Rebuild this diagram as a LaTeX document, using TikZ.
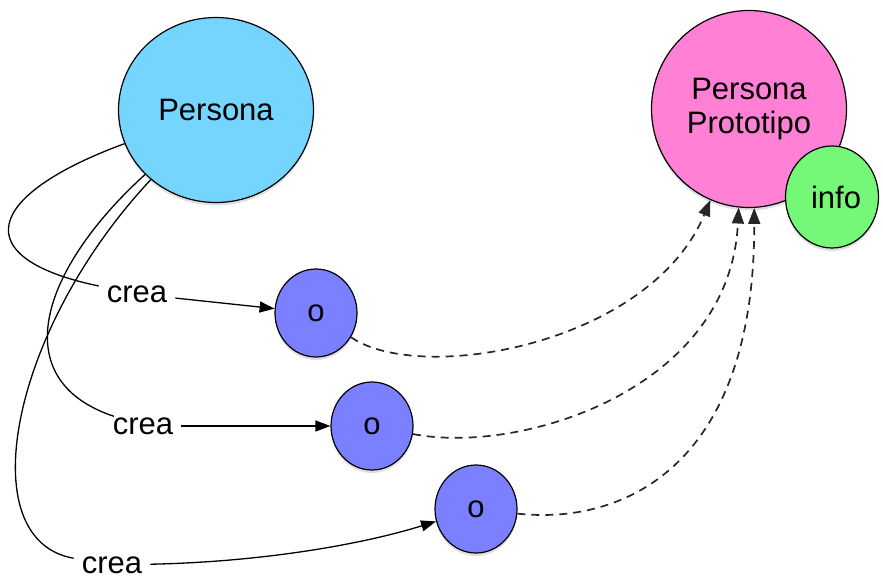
\documentclass[tikz,border=0pt]{standalone}
\usepackage{fontspec}
\setmainfont{Liberation Sans}
\usetikzlibrary{arrows.meta,shapes.geometric,shadows}
\definecolor{pblue}{HTML}{75D5FF}
\definecolor{ppink}{HTML}{FF80D5}
\definecolor{pgreen}{HTML}{75F877}
\definecolor{pviolet}{HTML}{7A80FF}
\begin{document}
\begin{tikzpicture}[x=1pt,y=-1pt,
  circ/.style={ellipse, draw=black, line width=1.2pt, inner sep=0pt,
    drop shadow={shadow xshift=0pt, shadow yshift=-3pt, opacity=0.25},
    font=\fontsize{31}{34}\selectfont, align=center},
  lab/.style={fill=white, inner xsep=8pt, inner ysep=1pt, font=\fontsize{31}{34}\selectfont},
  solidcon/.style={line width=1.3pt, draw=black},
  solidarr/.style={solidcon, -{Triangle[length=15pt,width=11pt]}},
  dashcon/.style={line width=1.7pt, draw=black!85, dash pattern=on 8pt off 6pt,
    -{Triangle[length=16pt,width=12pt]}}
]
\useasboundingbox (0,0) rectangle (883,578);
% main circles
\node[circ, fill=pblue, minimum width=195pt, minimum height=185pt] (P) at (216,110) {Persona};
\node[circ, fill=ppink, minimum width=195pt, minimum height=197pt] (PP) at (749,109) {Persona\\Prototipo};
\node[circ, fill=pgreen, minimum width=93pt, minimum height=102pt] (I) at (832,197) {\hspace*{8pt}info};
% object circles
\node[circ, fill=pviolet, minimum width=82pt, minimum height=88pt] (o1) at (316,313) {o};
\node[circ, fill=pviolet, minimum width=82pt, minimum height=88pt] (o2) at (372,426) {o};
\node[circ, fill=pviolet, minimum width=82pt, minimum height=88pt] (o3) at (476,509) {o};
% labels
\node[lab] (c1) at (137,294) {crea};
\node[lab] (c2) at (143,426) {crea};
\node[lab] (c3) at (112,565) {crea};
% creation connectors
\draw[solidcon] (P) .. controls (-15,195) and (-35,258) .. (c1);
\draw[solidarr] (c1) -- (o1);
\draw[solidcon] (P) .. controls (40,270) and (5,380) .. (c2);
\draw[solidarr] (c2) -- (o2);
\draw[solidcon] (P) .. controls (10,330) and (-30,540) .. (c3);
\draw[solidarr] (c3) .. controls (260,562) and (360,545) .. (o3);
% prototype links
\draw[dashcon] (o1) .. controls (420,385) and (650,345) .. (PP.247);
\draw[dashcon] (o2) .. controls (520,455) and (730,390) .. (PP.264);
\draw[dashcon] (o3) .. controls (620,525) and (755,470) .. (PP.273);
\end{tikzpicture}
\end{document}
